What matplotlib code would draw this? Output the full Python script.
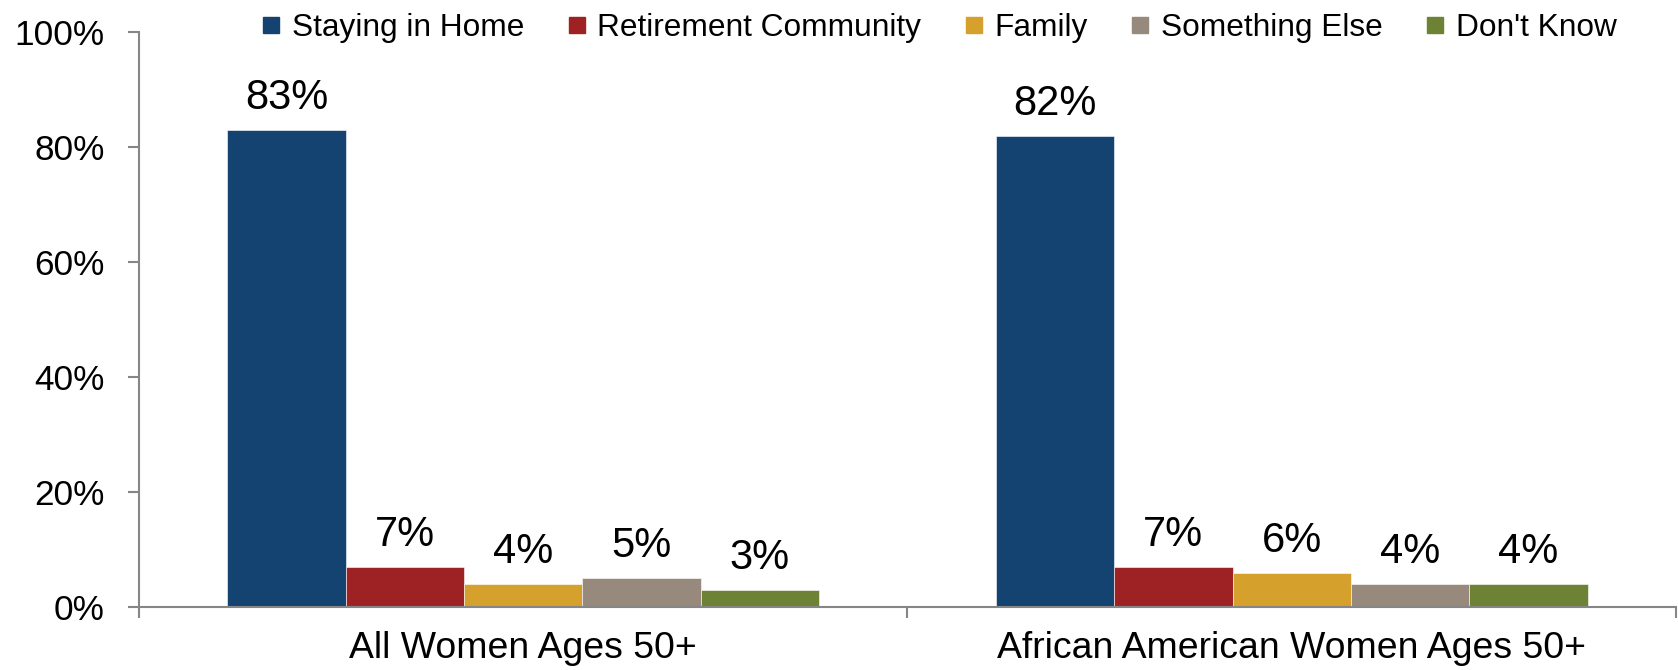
import matplotlib
matplotlib.use("Agg")
import matplotlib.pyplot as plt
from matplotlib.lines import Line2D
import numpy as np

plt.rcParams['font.family'] = ['Liberation Sans', 'DejaVu Sans']

groups = ["All Women Ages 50+", "African American Women Ages 50+"]
series = ["Staying in Home", "Retirement Community", "Family", "Something Else", "Don't Know"]
values = {
    "Staying in Home": [83, 82],
    "Retirement Community": [7, 7],
    "Family": [4, 6],
    "Something Else": [5, 4],
    "Don't Know": [3, 4],
}
colors = ["#154371", "#9E2224", "#D5A02C", "#97897C", "#6E8235"]
yticks = [0, 20, 40, 60, 80, 100]

fig = plt.figure(figsize=(16.78, 6.70), dpi=100)
ax = fig.add_axes([0.0828, 0.094, 0.916, 0.858])

n = len(series)
bw = 0.154
x = np.arange(len(groups))
for i, (s, c) in enumerate(zip(series, colors)):
    pos = x + (i - (n - 1) / 2) * bw
    bars = ax.bar(pos, values[s], width=bw, color=c, edgecolor='white', linewidth=0.4)
    for b, v in zip(bars, values[s]):
        ax.annotate(f"{v}%", (b.get_x() + b.get_width() / 2, v), xytext=(0, 15),
                    textcoords='offset points', ha='center', va='baseline', fontsize=30)

ax.set_xlim(-0.5, 1.5)
ax.set_ylim(0, 100)
ax.set_yticks(yticks)
ax.set_yticklabels([f"{t}%" for t in yticks], fontsize=25.4)
ax.set_xticks([-0.5, 0.5, 1.5])
ax.set_xticklabels([])
ax.set_xticks(x, minor=True)
ax.set_xticklabels(groups, minor=True, fontsize=26.9)

axis_color = "#868686"
for side in ['top', 'right']:
    ax.spines[side].set_visible(False)
for side in ['left', 'bottom']:
    ax.spines[side].set_color(axis_color)
    ax.spines[side].set_linewidth(1.5)
ax.tick_params(axis='y', which='major', length=8, width=1.5, color=axis_color, pad=16.5)
ax.tick_params(axis='x', which='major', length=8, width=1.5, color=axis_color, direction='out')
ax.tick_params(axis='x', which='minor', length=0, pad=17.5)
for t in ax.xaxis.get_major_ticks():
    t.tick1line.set_clip_on(False)

handles = [Line2D([], [], marker='s', linestyle='none', markersize=11, color=c) for c in colors]
fig.legend(handles, series, loc='center', bbox_to_anchor=(0.5596, 0.9586), ncol=5,
           frameon=False, fontsize=22.8, handlelength=0.6, handletextpad=0.35,
           columnspacing=1.36, borderaxespad=0, borderpad=0)

fig.savefig("out.png", dpi=100)
